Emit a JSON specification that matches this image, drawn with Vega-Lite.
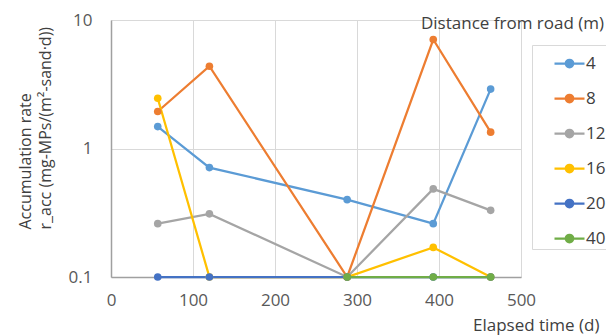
{
  "$schema": "https://vega.github.io/schema/vega-lite/v6.json",
  "width": 410,
  "height": 257,
  "autosize": {"type": "none"},
  "padding": {"left": 111, "top": 20, "right": 85, "bottom": 58},
  "background": "white",
  "config": {"view": {"stroke": null}, "font": "Open Sans"},
  "title": {"text": "Distance from road (m)", "anchor": "end", "frame": "group", "orient": "top", "fontSize": 17, "fontWeight": "normal", "color": "#404040", "dx": 83, "offset": 0, "baseline": "middle", "dy": 30},
  "data": {"values": [
    {"d": "4", "t": 57, "r": 1.48}, {"d": "4", "t": 120, "r": 0.71}, {"d": "4", "t": 288, "r": 0.40}, {"d": "4", "t": 393, "r": 0.26}, {"d": "4", "t": 463, "r": 2.9},
    {"d": "8", "t": 57, "r": 1.94}, {"d": "8", "t": 120, "r": 4.37}, {"d": "8", "t": 288, "r": 0.1}, {"d": "8", "t": 393, "r": 7.05}, {"d": "8", "t": 463, "r": 1.34},
    {"d": "12", "t": 57, "r": 0.26}, {"d": "12", "t": 120, "r": 0.31}, {"d": "12", "t": 288, "r": 0.1}, {"d": "12", "t": 393, "r": 0.485}, {"d": "12", "t": 463, "r": 0.33},
    {"d": "16", "t": 57, "r": 2.46}, {"d": "16", "t": 120, "r": 0.1}, {"d": "16", "t": 288, "r": 0.1}, {"d": "16", "t": 393, "r": 0.17}, {"d": "16", "t": 463, "r": 0.1},
    {"d": "20", "t": 57, "r": 0.1}, {"d": "20", "t": 120, "r": 0.1}, {"d": "20", "t": 288, "r": 0.1}, {"d": "20", "t": 393, "r": 0.1}, {"d": "20", "t": 463, "r": 0.1},
    {"d": "40", "t": 288, "r": 0.1}, {"d": "40", "t": 393, "r": 0.1}, {"d": "40", "t": 463, "r": 0.1}
  ]},
  "mark": {"type": "line", "strokeWidth": 2.25, "point": {"filled": true, "size": 58, "opacity": 1}},
  "encoding": {
    "x": {"field": "t", "type": "quantitative", "scale": {"domain": [0, 500], "nice": false},
      "axis": {"values": [0, 100, 200, 300, 400, 500], "grid": true, "gridColor": "#D9D9D9", "gridWidth": 1, "domainColor": "#A0A0A0", "domainWidth": 1.5, "ticks": false, "labelFontSize": 17, "labelColor": "#595959", "labelPadding": 15, "labelFlush": false,
        "title": "Elapsed time (d)", "titleFontSize": 17, "titleFontWeight": "normal", "titleColor": "#404040", "titleAlign": "right", "titleBaseline": "middle", "titleX": 488, "titleY": 48}},
    "y": {"field": "r", "type": "quantitative", "scale": {"type": "log", "domain": [0.1, 10], "nice": false},
      "axis": {"values": [0.1, 1, 10], "format": "~g", "grid": true, "gridColor": "#D9D9D9", "gridWidth": 1, "domainColor": "#A0A0A0", "domainWidth": 1.5, "ticks": false, "labelFontSize": 17, "labelColor": "#595959", "labelPadding": 19,
        "title": ["Accumulation rate", "r_acc (mg-MPs/(m²-sand·d))"], "titleFontSize": 16, "titleFontWeight": "normal", "titleColor": "#404040", "titleAngle": 270, "titleAlign": "left", "titleBaseline": "middle", "titleLineHeight": 20, "titleX": -86, "titleY": 209}},
    "color": {"field": "d", "type": "nominal", "sort": ["4", "8", "12", "16", "20", "40"],
      "scale": {"domain": ["4", "8", "12", "16", "20", "40"], "range": ["#5B9BD5", "#ED7D31", "#A5A5A5", "#FFC000", "#4472C4", "#70AD47"]},
      "legend": {"orient": "none", "legendX": 421, "legendY": 25, "title": null, "symbolType": "M-1,0H1M-0.25,0A0.25,0.25 0 1,1 0.25,0A0.25,0.25 0 1,1 -0.25,0Z", "symbolSize": 900, "symbolStrokeWidth": 2.25, "padding": 2, "rowPadding": 10, "symbolOffset": 19, "labelOffset": 0, "labelFontSize": 17, "labelColor": "#404040", "strokeColor": "#D9D9D9",
        "encode": {"symbols": {"update": {"fill": {"scale": "color", "field": "value"}, "opacity": {"value": 1}}}}}}
  }
}
